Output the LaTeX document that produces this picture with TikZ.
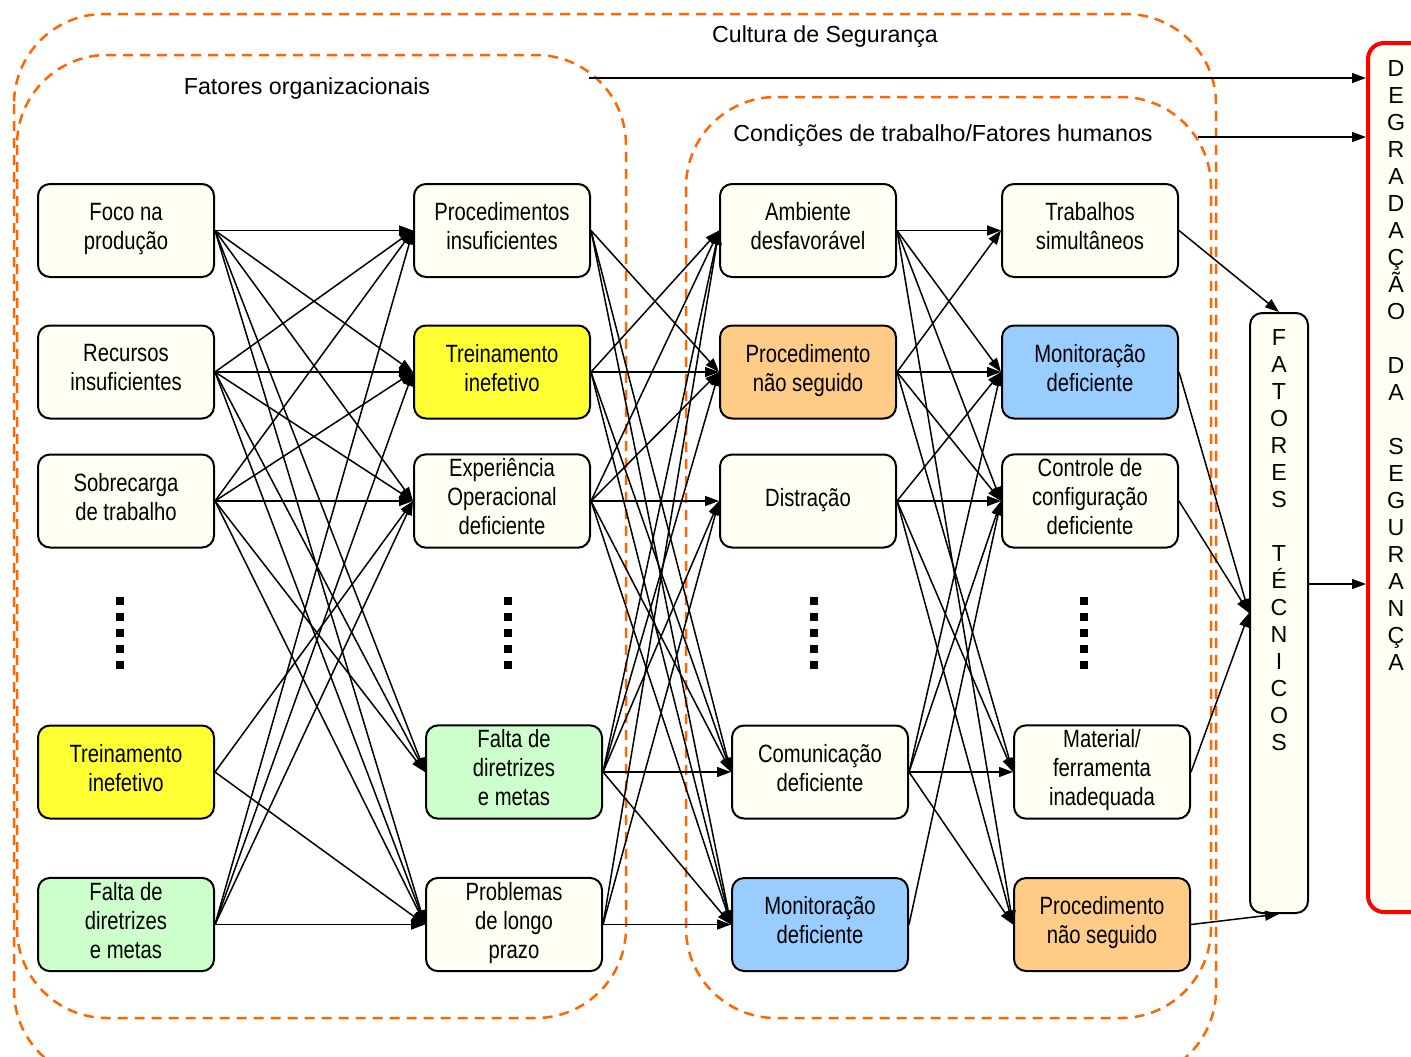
\documentclass[tikz,border=0pt]{standalone}
\usepackage{fontspec}
\setmainfont{Liberation Sans}
\newfontfamily\narrowfont{Liberation Sans}[FakeStretch=0.81]
\usepackage{tikz}
\usetikzlibrary{arrows.meta}

\definecolor{marfim}{RGB}{255,255,244}
\definecolor{amarelo}{RGB}{255,255,51}
\definecolor{laranja}{RGB}{255,204,136}
\definecolor{azul}{RGB}{153,204,255}
\definecolor{verde}{RGB}{204,255,204}
\definecolor{tracejado}{RGB}{255,102,0}

\tikzset{
  fator/.style={draw=black, line width=1pt, rounded corners=6pt, fill=marfim,
    minimum width=88pt, minimum height=46.5pt, align=center, inner sep=2pt,
    font=\narrowfont\fontsize{12.5}{14.6}\selectfont,
    execute at begin node=\strut, execute at end node=\strut},
  liga/.style={-{Triangle[length=7pt,width=5pt]}, line width=0.75pt},
  regiao/.style={draw=tracejado, line width=1.25pt, dash pattern=on 5pt off 3.5pt, rounded corners=45pt},
  titulo/.style={font=\fontsize{11.6}{14}\selectfont},
  letras/.style={align=center, inner sep=0pt, font=\fontsize{11.6}{13.5}\selectfont},
  pontos/.style={line width=4pt, dash pattern=on 4pt off 4pt},
}

\begin{document}
\begin{tikzpicture}[x=0.5pt, y=-0.5pt]
  \useasboundingbox (0,0) rectangle (1411,1056);

  % regioes tracejadas
  \draw[regiao] (14,14) rectangle (1216,1080);
  \draw[regiao] (17,55) rectangle (626,1018);
  \draw[regiao] (686,97) rectangle (1211,1018);
  \node[titulo] (cultura) at (825,37) {Cultura de Segurança};
  \node[titulo] (organizacionais) at (307,88) {Fatores organizacionais};
  \node[titulo] (condicoes) at (943,136) {Condições de trabalho/Fatores humanos};

  % fatores organizacionais
  \node[fator] (foco) at (126,230.5) {Foco na\\produção};
  \node[fator] (recursos) at (126,372) {Recursos\\insuficientes};
  \node[fator] (sobrecarga) at (126,501) {Sobrecarga\\de trabalho};
  \node[fator, fill=amarelo] (treinoA) at (126,772) {Treinamento\\inefetivo};
  \node[fator, fill=verde] (faltaA) at (126,924.5) {Falta de\\diretrizes\\e metas};

  \node[fator] (procins) at (502,230.5) {Procedimentos\\insuficientes};
  \node[fator, fill=amarelo] (treinoB) at (502,372) {Treinamento\\inefetivo};
  \node[fator] (experiencia) at (502,501) {Experiência\\Operacional\\deficiente};
  \node[fator, fill=verde] (faltaB) at (514,772) {Falta de\\diretrizes\\e metas};
  \node[fator] (problemas) at (514,924.5) {Problemas\\de longo\\prazo};

  % condicoes de trabalho
  \node[fator] (ambiente) at (808,230.5) {Ambiente\\desfavorável};
  \node[fator, fill=laranja] (procnsC) at (808,372) {Procedimento\\não seguido};
  \node[fator] (distracao) at (808,501) {Distração};
  \node[fator] (comunicacao) at (820,772) {Comunicação\\deficiente};
  \node[fator, fill=azul] (monitC) at (820,924.5) {Monitoração\\deficiente};

  \node[fator] (trabalhos) at (1090,230.5) {Trabalhos\\simultâneos};
  \node[fator, fill=azul] (monitD) at (1090,372) {Monitoração\\deficiente};
  \node[fator] (controle) at (1090,501) {Controle de\\configuração\\deficiente};
  \node[fator] (material) at (1102,772) {Material/\\ferramenta\\inadequada};
  \node[fator, fill=laranja] (procnsD) at (1102,924.5) {Procedimento\\não seguido};

  \foreach \x in {120,508,814,1084}
    \draw[pontos] (\x,597) -- (\x,671);

  % fatores tecnicos e degradacao
  \node[fator, minimum width=29pt, minimum height=300pt] (tecnicos) at (1279,613) {};
  \node[letras, anchor=north] (tecnicostxt) at (1279,329)
    {F\\A\\T\\O\\R\\E\\S\\[13.5pt]T\\É\\C\\N\\I\\C\\O\\S};
  \node[draw=red, line width=2pt, rounded corners=8pt, fill=marfim,
    minimum width=36pt, minimum height=434.5pt] (degradacao) at (1404,477.5) {};
  \node[letras, anchor=north] (degradacaotxt) at (1396,60)
    {D\\E\\G\\R\\A\\D\\A\\Ç\\Ã\\O\\[13.5pt]D\\A\\[13.5pt]S\\E\\G\\U\\R\\A\\N\\Ç\\A};

  % ligacoes
  \foreach \de/\para in {foco/procins, foco/treinoB, foco/experiencia, foco/faltaB, foco/problemas,
      recursos/procins, recursos/treinoB, recursos/experiencia, recursos/faltaB, recursos/problemas,
      sobrecarga/procins, sobrecarga/treinoB, sobrecarga/experiencia, sobrecarga/faltaB, sobrecarga/problemas,
      treinoA/experiencia, treinoA/problemas,
      faltaA/procins, faltaA/treinoB, faltaA/experiencia, faltaA/problemas}
    \draw[liga] (\de.east) -- (\para.west);

  \foreach \de/\para in {procins/procnsC, procins/comunicacao, procins/monitC,
      treinoB/ambiente, treinoB/procnsC, treinoB/comunicacao, treinoB/monitC,
      experiencia/ambiente, experiencia/procnsC, experiencia/distracao, experiencia/comunicacao, experiencia/monitC,
      faltaB/ambiente, faltaB/procnsC, faltaB/distracao, faltaB/comunicacao, faltaB/monitC,
      problemas/ambiente, problemas/distracao, problemas/monitC}
    \draw[liga] (\de.east) -- (\para.west);

  \foreach \de/\para in {ambiente/trabalhos, ambiente/monitD, ambiente/controle, ambiente/procnsD,
      procnsC/trabalhos, procnsC/monitD, procnsC/controle, procnsC/material,
      distracao/monitD, distracao/controle, distracao/material, distracao/procnsD,
      comunicacao/monitD, comunicacao/controle, comunicacao/material, comunicacao/procnsD,
      monitC/controle}
    \draw[liga] (\de.east) -- (\para.west);

  \draw[liga] (trabalhos.east) -- (tecnicos.north);
  \foreach \de in {monitD, controle, material}
    \draw[liga] (\de.east) -- (tecnicos.west);
  \draw[liga] (procnsD.east) -- (tecnicos.south);

  \coordinate (saida) at (1308,584);
  \coordinate (orgcanto) at (589,78);
  \coordinate (condcanto) at (1198,137);
  \draw[liga] (saida) -- (saida -| degradacao.west);
  \draw[liga] (orgcanto) -- (orgcanto -| degradacao.west);
  \draw[liga] (condcanto) -- (condcanto -| degradacao.west);
\end{tikzpicture}
\end{document}
